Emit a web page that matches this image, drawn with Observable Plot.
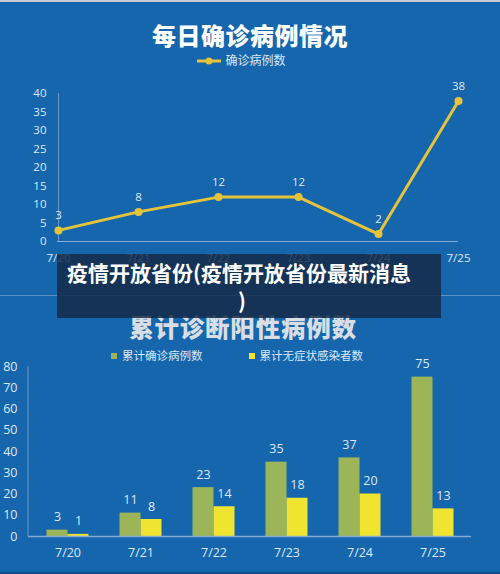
<!DOCTYPE html>
<html>
<head>
<meta charset="utf-8">
<script src="https://cdn.jsdelivr.net/npm/d3@7"></script>
<script src="https://cdn.jsdelivr.net/npm/@observablehq/plot@0.6"></script>
<style>
  html, body { margin: 0; padding: 0; }
  body { width: 500px; height: 574px; overflow: hidden; }
  #wrap { position: relative; width: 500px; height: 574px; background: #1666ae; overflow: hidden;
          font-family: "Noto Sans CJK SC", "Noto Sans", sans-serif; }
  .abs { position: absolute; }
  #topline { left: 0; top: 0; width: 500px; height: 2px; background: #c9cdd2; }
  #botline { left: 0; top: 572px; width: 500px; height: 2px; background: #0f4f8c; }
  #sep { left: 0; top: 295px; width: 500px; height: 1px; background: #5b8fc4; }
  #title1 { left: 0; width: 500px; top: 18px; text-align: center; color: #ffffff; font-size: 24px;
            font-weight: 900; line-height: 34px; letter-spacing: 0.5px; }
  #title2 { left: -7px; width: 500px; top: 310px; text-align: center; color: #d9dee4; font-size: 24.5px;
            font-weight: 900; line-height: 34px; letter-spacing: 0.8px; z-index: 1; }
  #leg1 { left: -9px; width: 500px; top: 51px; text-align: center; color: #dbe6f2; font-size: 12px; line-height: 18px; }
  #leg2 { left: -13px; width: 500px; top: 346px; text-align: center; color: #dbe6f2; font-size: 11.5px; line-height: 18px; z-index: 2; }
  .sw { display: inline-block; width: 6px; height: 6px; vertical-align: middle; margin-right: 5px; position: relative; top: -1px; }
  #chart1 { left: 0; top: 70px; }
  #chart2 { left: 0; top: 350px; }
  #banner { left: 57px; top: 254px; width: 384px; height: 64px; background: rgba(20, 42, 70, 0.84); z-index: 5;
            color: #ffffff; font-size: 21px; font-weight: 700; line-height: 28px; }
  #banner .l1 { position: absolute; left: 10px; top: 4px; white-space: nowrap; }
  #banner .l2 { position: absolute; left: 0; width: 370px; top: 32px; text-align: center; }
</style>
</head>
<body>
<div id="wrap">
  <div class="abs" id="topline"></div>
  <div class="abs" id="title1">每日确诊病例情况</div>
  <div class="abs" id="leg1"></div>
  <div class="abs" id="chart1"></div>
  <div class="abs" id="sep"></div>
  <div class="abs" id="title2">累计诊断阳性病例数</div>
  <div class="abs" id="leg2"></div>
  <div class="abs" id="chart2"></div>
  <div class="abs" id="banner"><span class="l1">疫情开放省份(疫情开放省份最新消息</span><span class="l2">)</span></div>
  <div class="abs" id="botline"></div>
</div>
<script>
// ---- data ----
const dates = ["7/20", "7/21", "7/22", "7/23", "7/24", "7/25"];
const dailyCases = [3, 8, 12, 12, 2, 38];
const cumConfirmed = [3, 11, 23, 35, 37, 75];
const cumAsymptomatic = [1, 8, 14, 18, 20, 13];
const topTicks = [0, 5, 10, 15, 20, 25, 30, 35, 40];
const bottomTicks = [0, 10, 20, 30, 40, 50, 60, 70, 80];
const seriesNames = ["确诊病例数", "累计确诊病例数", "累计无症状感染者数"];

const lineColor = "#e6c43a";
const greenColor = "#9bb558";
const yellowColor = "#efe531";
const textColor = "#dce8f5";
const axisColor = "#86acd6";
const numFont = "'Open Sans', 'Noto Sans', sans-serif";

// legends
document.getElementById("leg1").innerHTML =
  `<svg width="26" height="10" style="vertical-align:middle;margin-right:3px;position:relative;top:-1px">
     <line x1="1" y1="5" x2="25" y2="5" stroke="${lineColor}" stroke-width="3"/>
     <circle cx="13" cy="5" r="3.5" fill="${lineColor}"/></svg>${seriesNames[0]}`;
document.getElementById("leg2").innerHTML =
  `<span class="sw" style="background:${greenColor}"></span>${seriesNames[1]}` +
  `<span style="display:inline-block;width:46px"></span>` +
  `<span class="sw" style="background:${yellowColor}"></span>${seriesNames[2]}`;

// ---- top line chart ----
const daily = dates.map((d, i) => ({date: d, value: dailyCases[i]}));
const chart1 = Plot.plot({
  width: 500,
  height: 200,
  marginTop: 23,
  marginBottom: 29,
  marginLeft: 57,
  marginRight: 42,
  style: {background: "transparent", color: textColor, fontSize: "11.5px", fontFamily: numFont},
  x: {type: "point", domain: dates, padding: 0, label: null, tickSize: 0, tickPadding: 12},
  y: {domain: [0, 40], ticks: topTicks, label: null, tickSize: 0, tickPadding: 11},
  marks: [
    Plot.ruleY([0], {stroke: axisColor, strokeWidth: 1}),
    Plot.ruleX([dates[0]], {y1: 0, y2: 40, stroke: axisColor, strokeWidth: 1, strokeOpacity: 0.7}),
    Plot.line(daily, {x: "date", y: "value", stroke: lineColor, strokeWidth: 3}),
    Plot.dot(daily, {x: "date", y: "value", fill: lineColor, r: 4}),
    Plot.text(daily, {x: "date", y: "value", text: d => String(d.value), dy: -15, fill: textColor, fontSize: 11.5})
  ]
});
document.getElementById("chart1").appendChild(chart1);

// ---- bottom grouped bar chart ----
const cum = dates.map((d, i) => ({date: d, confirmed: cumConfirmed[i], asym: cumAsymptomatic[i]}));
const chart2 = Plot.plot({
  width: 500,
  height: 224,
  marginTop: 16,
  marginBottom: 38,
  marginLeft: 28,
  marginRight: 29,
  style: {background: "transparent", color: textColor, fontSize: "12.5px", fontFamily: numFont},
  x: {type: "band", domain: dates, paddingInner: 0.715, paddingOuter: 0.3575, label: null, tickSize: 0, tickPadding: 12},
  y: {domain: [0, 80], ticks: bottomTicks, label: null, tickSize: 0, tickPadding: 11},
  marks: [
    Plot.barY(cum, {x: "date", y: "confirmed", fill: greenColor, dx: -10.5}),
    Plot.barY(cum, {x: "date", y: "asym", fill: yellowColor, dx: 10.5}),
    Plot.ruleY([0], {stroke: axisColor, strokeWidth: 1.5}),
    Plot.text(cum, {x: "date", y: "confirmed", text: d => String(d.confirmed), dx: -10.5, dy: -13, fill: textColor, fontSize: 12.5}),
    Plot.text(cum, {x: "date", y: "asym", text: d => String(d.asym), dx: 10.5, dy: -13, fill: textColor, fontSize: 12.5})
  ]
});
// left axis line drawn from the plot's own scales
{
  const xs = chart2.scale("x");
  const ys = chart2.scale("y");
  const x0 = xs.range[0];
  d3.select(chart2).append("line")
    .attr("x1", x0).attr("x2", x0)
    .attr("y1", ys.apply(0)).attr("y2", ys.apply(80))
    .attr("stroke", axisColor).attr("stroke-opacity", 0.7);
}
document.getElementById("chart2").appendChild(chart2);
</script>
</body>
</html>
